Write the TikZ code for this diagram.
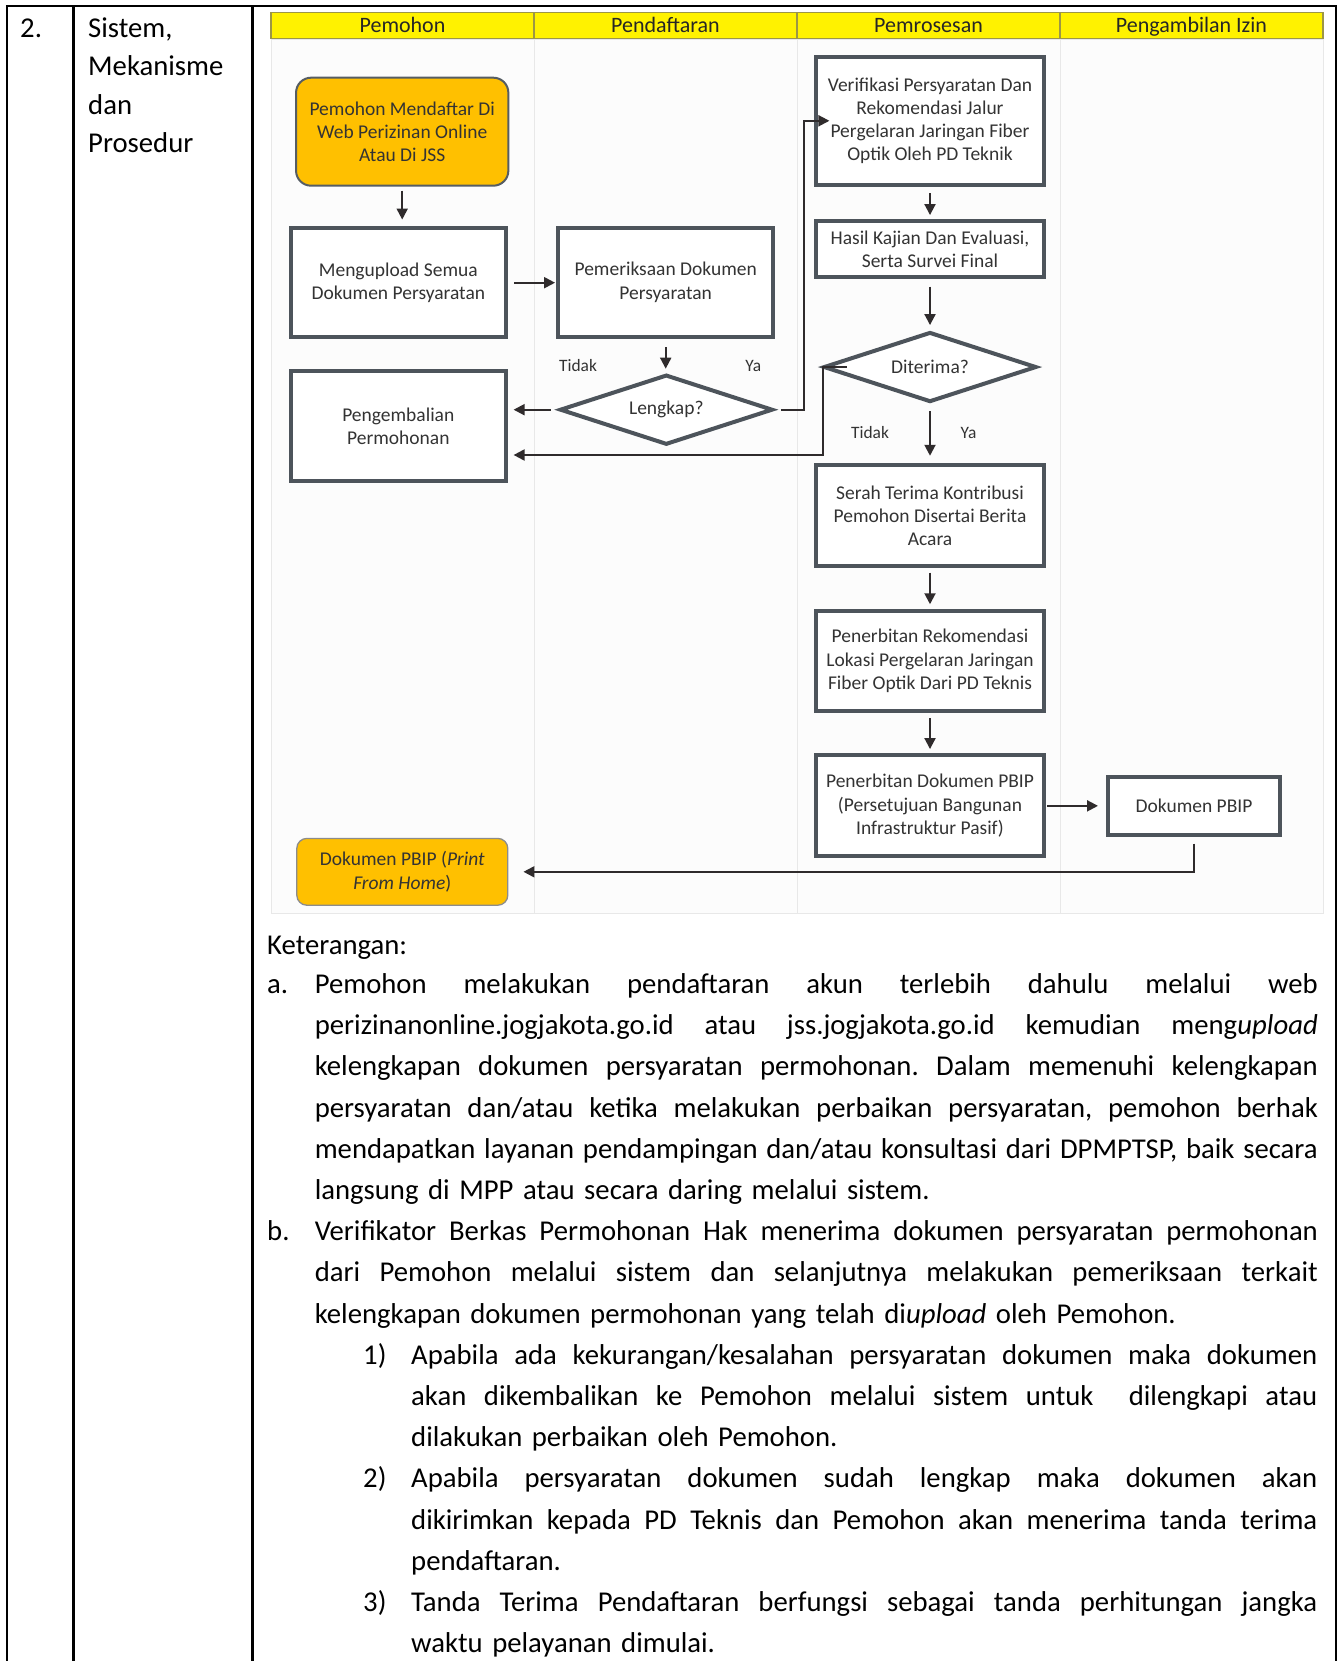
\documentclass[tikz,border=0pt]{standalone}
\usepackage{fontspec}
\setmainfont{Carlito}
\usetikzlibrary{arrows.meta,positioning,calc,shapes.geometric}
\definecolor{kuning}{HTML}{FFF200}
\definecolor{garisKuning}{HTML}{9C9646}
\definecolor{oranye}{HTML}{FFC000}
\definecolor{abuKotak}{HTML}{4D545B}
\definecolor{abuLajur}{HTML}{E8E8E8}
\definecolor{teksC}{HTML}{333333}
\definecolor{panahC}{HTML}{2F2B2C}
\newcommand{\fbagan}{\fontsize{19.5}{23.3}\selectfont}
\newcommand{\fisi}{\fontsize{28.7}{41.2}\selectfont}
\newcommand{\jbaris}[2][1003pt]{\leavevmode\hbox to #1{\spaceskip=0.226em plus 1fil minus 0.08em\relax #2}}
\frenchspacing
\tikzset{
  proses/.style={rectangle, draw=abuKotak, line width=4pt, fill=white,
                 align=center, font=\fbagan, text=teksC, inner sep=0pt},
  terminal/.style={rectangle, rounded corners=#1, fill=oranye,
                   align=center, font=\fbagan, text=teksC, inner sep=0pt},
  putusan/.style={diamond, aspect=3, draw=abuKotak, line width=4pt, fill=white, font=\fbagan,
                  text=teksC, inner sep=0pt, minimum width=213pt, minimum height=70pt},
  panah/.style={-{Triangle[length=11pt, width=11pt]}, line width=2pt, draw=panahC},
  kepala/.style={rectangle, draw=garisKuning, line width=1.2pt, fill=kuning, inner sep=0pt,
                 minimum width=263pt, minimum height=26.4pt, text=black!85,
                 font=\fontsize{22}{26}\selectfont, text height=18.6pt, text depth=4.5pt},
  lajur/.style={draw=abuLajur, line width=1pt, fill=gray!2},
  ket/.style={font=\fontsize{17.4}{20}\selectfont, text=teksC, inner sep=0pt},
  isi/.style={font=\fisi, text width=#1, align=left, inner sep=0pt, anchor=base west},
  nomor/.style={font=\fisi, inner sep=0pt, anchor=base west},
  tabel/.style={line width=2.5pt, draw=black},
}
\begin{document}
\begin{tikzpicture}[x=1pt, y=-1pt]
  \useasboundingbox (0,0) rectangle (1339,1661);
  % tabel
  \draw[tabel] (5.75,6.2) -- (1337.25,6.2);
  \foreach \x in {7,73.7,252.5,1336} \draw[tabel] (\x,6.2) -- (\x,1665);
  \node[nomor] (no) at (20,37.2) {2.};
  \node[isi=160pt, font=\fontsize{28.7}{38.5}\selectfont] (judul) at (88,37.2) {Sistem,\\Mekanisme\\dan\\Prosedur};
  % lajur
  \foreach \x in {271,534,797,1060} \draw[lajur] (\x,39.3) rectangle ++(263,873.7);
  \foreach \x/\nama/\teks in {402.5/h1/Pemohon, 665.5/h2/Pendaftaran, 928.5/h3/Pemrosesan, 1191.5/h4/Pengambilan Izin}
    \node[kepala] (\nama) at (\x,25.5) {\teks};
  % bagan alir
  \node[terminal=15pt, draw=abuKotak!95, line width=2pt, minimum width=212.3pt, minimum height=108pt] (mulai) at (402.2,131.7) {Pemohon Mendaftar Di\\Web Perizinan Online\\Atau Di JSS};
  \node[proses, minimum width=214.6pt, minimum height=109.3pt] (unggah) at (398.3,282.7) {Mengupload Semua\\Dokumen Persyaratan};
  \node[proses, minimum width=215.3pt, minimum height=109.4pt] (periksa) at (665.7,282.3) {Pemeriksaan Dokumen\\Persyaratan};
  \node[putusan] (lengkap) at (666.3,409.7) {Lengkap?};
  \node[proses, minimum width=214.6pt, minimum height=109.2pt] (kembali) at (398.3,426) {Pengembalian\\Permohonan};
  \node[proses, minimum width=227.2pt, minimum height=128.5pt] (verif) at (930,120.8) {Verifikasi Persyaratan Dan\\Rekomendasi Jalur\\Pergelaran Jaringan Fiber\\Optik Oleh PD Teknik};
  \node[proses, minimum width=227.2pt, minimum height=56.3pt, below=32pt of verif] (hasil) {Hasil Kajian Dan Evaluasi,\\Serta Survei Final};
  \node[putusan, below=50.7pt of hasil] (diterima) {Diterima?};
  \node[proses, minimum width=227.2pt, minimum height=100.8pt, below=59.4pt of diterima] (serah) {Serah Terima Kontribusi\\Pemohon Disertai Berita\\Acara};
  \node[proses, minimum width=227.2pt, minimum height=100.8pt, below=40.4pt of serah] (rekom) {Penerbitan Rekomendasi\\Lokasi Pergelaran Jaringan\\Fiber Optik Dari PD Teknis};
  \node[proses, minimum width=227.2pt, minimum height=100.8pt, below=40pt of rekom] (terbit) {Penerbitan Dokumen PBIP\\(Persetujuan Bangunan\\Infrastruktur Pasif)};
  \node[proses, minimum width=172pt, minimum height=58pt, right=60.4pt of terbit] (dokpbip) {Dokumen PBIP};
  \node[terminal=10pt, draw=gray!90, line width=1.3pt, minimum width=211pt, minimum height=66.8pt] (selesai) at (402.3,871.8) {Dokumen PBIP (\textit{Print}\\\textit{From Home})};
  \node[ket] (tidak1) at (578,365.7) {Tidak};
  \node[ket] (ya1) at (753.3,365.7) {Ya};
  \node[ket] (tidak2) at (870,432.7) {Tidak};
  \node[ket] (ya2) at (968.5,432.7) {Ya};
  \draw[panah, shorten <=4pt, shorten >=6.5pt] (mulai.south) -- (mulai.south |- unggah.north);
  \draw[panah, shorten <=6.5pt, shorten >=1pt] (unggah.east) -- (unggah.east -| periksa.west);
  \draw[panah, shorten <=8pt, shorten >=4pt] (periksa.south) -- (periksa.south |- lengkap.north);
  \draw[panah, shorten <=7pt, shorten >=6pt] (lengkap.west) -- (lengkap.west -| kembali.east);
  \draw[panah] ($(lengkap.east)+(6,0)$) -- ($(lengkap.east)+(29,0)$) |- ($(verif.west)+(15,0)$);
  \draw[panah, shorten >=6pt] ($(diterima.west)+(25,0)$) -- ($(diterima.west)+(1,0)$) |- ($(kembali.east)+(0,29)$);
  \draw[panah, shorten <=6.3pt, shorten >=4pt] (verif) -- (hasil);
  \draw[panah, shorten <=7.4pt, shorten >=5pt] (hasil) -- (diterima);
  \draw[panah, shorten <=7.4pt, shorten >=7.7pt] (diterima) -- (serah);
  \draw[panah, shorten <=4.4pt, shorten >=4.4pt] (serah) -- (rekom);
  \draw[panah, shorten <=4.6pt, shorten >=4.4pt] (rekom) -- (terbit);
  \draw[panah, shorten <=1.4pt, shorten >=8pt] (terbit) -- (dokpbip);
  \draw[panah, shorten >=15pt] ($(dokpbip.south)+(0,6.7)$) |- (selesai.east);
  % keterangan
  \node[nomor] (ket) at (267,954.7) {Keterangan:};
  \node[nomor] (na) at (267,993.5) {a.};
  \node[isi=1003pt] (pa) at (314.6,993.5) {\jbaris{Pemohon melakukan pendaftaran akun terlebih dahulu melalui web}\\
    \jbaris{perizinanonline.jogjakota.go.id atau jss.jogjakota.go.id kemudian meng\textit{upload}}\\
    \jbaris{kelengkapan dokumen persyaratan permohonan. Dalam memenuhi kelengkapan}\\
    \jbaris{persyaratan dan/atau ketika melakukan perbaikan persyaratan, pemohon berhak}\\
    \jbaris{mendapatkan layanan pendampingan dan/atau konsultasi dari DPMPTSP, baik secara}\\
    langsung di MPP atau secara daring melalui sistem.};
  \node[nomor] (nb) at (267,1240.7) {b.};
  \node[isi=1003pt] (pb) at (314.6,1240.7) {\jbaris{Verifikator Berkas Permohonan Hak menerima dokumen persyaratan permohonan}\\
    \jbaris{dari Pemohon melalui sistem dan selanjutnya melakukan pemeriksaan terkait}\\
    kelengkapan dokumen permohonan yang telah di\textit{upload} oleh Pemohon.};
  \node[nomor] (n1) at (363,1364.3) {1)};
  \node[isi=906pt] (p1) at (411,1364.3) {\jbaris[906pt]{Apabila ada kekurangan/kesalahan persyaratan dokumen maka dokumen}\\
    \jbaris[906pt]{akan dikembalikan ke Pemohon melalui sistem untuk\ \ dilengkapi atau}\\
    dilakukan perbaikan oleh Pemohon.};
  \node[nomor] (n2) at (363,1487.9) {2)};
  \node[isi=906pt] (p2) at (411,1487.9) {\jbaris[906pt]{Apabila persyaratan dokumen sudah lengkap maka dokumen akan}\\
    \jbaris[906pt]{dikirimkan kepada PD Teknis dan Pemohon akan menerima tanda terima}\\
    pendaftaran.};
  \node[nomor] (n3) at (363,1611.5) {3)};
  \node[isi=906pt] (p3) at (411,1611.5) {\jbaris[906pt]{Tanda Terima Pendaftaran berfungsi sebagai tanda perhitungan jangka}\\
    waktu pelayanan dimulai.};
\end{tikzpicture}
\end{document}
